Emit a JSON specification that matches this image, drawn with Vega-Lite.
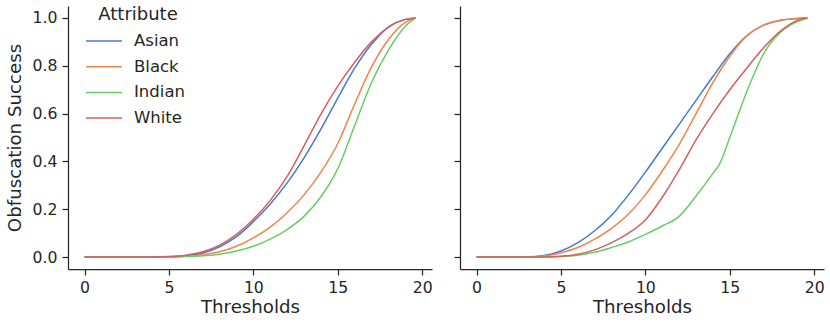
{
  "$schema": "https://vega.github.io/schema/vega-lite/v6.json",
  "padding": {"left": 5, "top": 6, "right": 0, "bottom": 0},
  "background": "white",
  "bounds": "flush",
  "spacing": 28,
  "config": {
    "view": {"stroke": null},
    "font": "DejaVu Sans",
    "axis": {
      "domainColor": "#262626", "domainWidth": 1.25,
      "tickColor": "#262626", "tickWidth": 1.25, "tickSize": 6,
      "labelColor": "#262626", "labelFontSize": 15.7, "labelFont": "DejaVu Sans", "labelPadding": 5,
      "titleFont": "DejaVu Sans", "titleFontSize": 18.2, "titleFontWeight": "normal", "titleColor": "#262626",
      "grid": false
    },
    "legend": {
      "labelFont": "DejaVu Sans", "titleFont": "DejaVu Sans"
    }
  },
  "data": {
    "values": [
      {"p":"L","a":"Asian","t":0,"v":0},{"p":"L","a":"Asian","t":4,"v":0},{"p":"L","a":"Asian","t":5,"v":0.001},{"p":"L","a":"Asian","t":6,"v":0.005},{"p":"L","a":"Asian","t":7,"v":0.017},{"p":"L","a":"Asian","t":8,"v":0.043},{"p":"L","a":"Asian","t":9,"v":0.085},{"p":"L","a":"Asian","t":10,"v":0.148},{"p":"L","a":"Asian","t":11,"v":0.222},{"p":"L","a":"Asian","t":12,"v":0.31},{"p":"L","a":"Asian","t":13,"v":0.415},{"p":"L","a":"Asian","t":14,"v":0.535},{"p":"L","a":"Asian","t":15,"v":0.665},{"p":"L","a":"Asian","t":16,"v":0.79},{"p":"L","a":"Asian","t":17,"v":0.89},{"p":"L","a":"Asian","t":18,"v":0.962},{"p":"L","a":"Asian","t":19,"v":0.994},{"p":"L","a":"Asian","t":19.6,"v":1},
      {"p":"L","a":"Black","t":0,"v":0},{"p":"L","a":"Black","t":5,"v":0},{"p":"L","a":"Black","t":6,"v":0.003},{"p":"L","a":"Black","t":7,"v":0.01},{"p":"L","a":"Black","t":8,"v":0.022},{"p":"L","a":"Black","t":9,"v":0.045},{"p":"L","a":"Black","t":10,"v":0.08},{"p":"L","a":"Black","t":11,"v":0.125},{"p":"L","a":"Black","t":12,"v":0.185},{"p":"L","a":"Black","t":13,"v":0.26},{"p":"L","a":"Black","t":14,"v":0.355},{"p":"L","a":"Black","t":15,"v":0.475},{"p":"L","a":"Black","t":16,"v":0.64},{"p":"L","a":"Black","t":17,"v":0.795},{"p":"L","a":"Black","t":18,"v":0.91},{"p":"L","a":"Black","t":19,"v":0.982},{"p":"L","a":"Black","t":19.6,"v":1},
      {"p":"L","a":"Indian","t":0,"v":0},{"p":"L","a":"Indian","t":5,"v":0},{"p":"L","a":"Indian","t":6,"v":0.002},{"p":"L","a":"Indian","t":7,"v":0.005},{"p":"L","a":"Indian","t":8,"v":0.012},{"p":"L","a":"Indian","t":9,"v":0.025},{"p":"L","a":"Indian","t":10,"v":0.045},{"p":"L","a":"Indian","t":11,"v":0.075},{"p":"L","a":"Indian","t":12,"v":0.115},{"p":"L","a":"Indian","t":13,"v":0.17},{"p":"L","a":"Indian","t":14,"v":0.252},{"p":"L","a":"Indian","t":15,"v":0.37},{"p":"L","a":"Indian","t":16,"v":0.55},{"p":"L","a":"Indian","t":17,"v":0.73},{"p":"L","a":"Indian","t":18,"v":0.865},{"p":"L","a":"Indian","t":19,"v":0.965},{"p":"L","a":"Indian","t":19.6,"v":1},
      {"p":"L","a":"White","t":0,"v":0},{"p":"L","a":"White","t":4,"v":0},{"p":"L","a":"White","t":5,"v":0.002},{"p":"L","a":"White","t":6,"v":0.008},{"p":"L","a":"White","t":7,"v":0.022},{"p":"L","a":"White","t":8,"v":0.05},{"p":"L","a":"White","t":9,"v":0.095},{"p":"L","a":"White","t":10,"v":0.158},{"p":"L","a":"White","t":11,"v":0.237},{"p":"L","a":"White","t":12,"v":0.337},{"p":"L","a":"White","t":13,"v":0.465},{"p":"L","a":"White","t":14,"v":0.598},{"p":"L","a":"White","t":15,"v":0.715},{"p":"L","a":"White","t":16,"v":0.815},{"p":"L","a":"White","t":17,"v":0.9},{"p":"L","a":"White","t":18,"v":0.962},{"p":"L","a":"White","t":19,"v":0.994},{"p":"L","a":"White","t":19.6,"v":1},
      {"p":"R","a":"Asian","t":0,"v":0},{"p":"R","a":"Asian","t":3,"v":0},{"p":"R","a":"Asian","t":4,"v":0.006},{"p":"R","a":"Asian","t":5,"v":0.025},{"p":"R","a":"Asian","t":6,"v":0.06},{"p":"R","a":"Asian","t":7,"v":0.11},{"p":"R","a":"Asian","t":8,"v":0.175},{"p":"R","a":"Asian","t":9,"v":0.26},{"p":"R","a":"Asian","t":10,"v":0.355},{"p":"R","a":"Asian","t":11,"v":0.455},{"p":"R","a":"Asian","t":12,"v":0.555},{"p":"R","a":"Asian","t":13,"v":0.655},{"p":"R","a":"Asian","t":14,"v":0.755},{"p":"R","a":"Asian","t":15,"v":0.85},{"p":"R","a":"Asian","t":16,"v":0.925},{"p":"R","a":"Asian","t":17,"v":0.97},{"p":"R","a":"Asian","t":18,"v":0.99},{"p":"R","a":"Asian","t":19,"v":0.998},{"p":"R","a":"Asian","t":19.6,"v":1},
      {"p":"R","a":"Black","t":0,"v":0},{"p":"R","a":"Black","t":3,"v":0},{"p":"R","a":"Black","t":4,"v":0.004},{"p":"R","a":"Black","t":5,"v":0.018},{"p":"R","a":"Black","t":6,"v":0.04},{"p":"R","a":"Black","t":7,"v":0.075},{"p":"R","a":"Black","t":8,"v":0.12},{"p":"R","a":"Black","t":9,"v":0.18},{"p":"R","a":"Black","t":10,"v":0.26},{"p":"R","a":"Black","t":11,"v":0.36},{"p":"R","a":"Black","t":12,"v":0.47},{"p":"R","a":"Black","t":13,"v":0.6},{"p":"R","a":"Black","t":14,"v":0.73},{"p":"R","a":"Black","t":15,"v":0.84},{"p":"R","a":"Black","t":16,"v":0.925},{"p":"R","a":"Black","t":17,"v":0.97},{"p":"R","a":"Black","t":18,"v":0.99},{"p":"R","a":"Black","t":19,"v":0.998},{"p":"R","a":"Black","t":19.6,"v":1},
      {"p":"R","a":"Indian","t":0,"v":0},{"p":"R","a":"Indian","t":4,"v":0},{"p":"R","a":"Indian","t":5,"v":0.002},{"p":"R","a":"Indian","t":6,"v":0.008},{"p":"R","a":"Indian","t":7,"v":0.02},{"p":"R","a":"Indian","t":8,"v":0.04},{"p":"R","a":"Indian","t":9,"v":0.063},{"p":"R","a":"Indian","t":10,"v":0.095},{"p":"R","a":"Indian","t":11,"v":0.13},{"p":"R","a":"Indian","t":12,"v":0.17},{"p":"R","a":"Indian","t":13,"v":0.255},{"p":"R","a":"Indian","t":14,"v":0.35},{"p":"R","a":"Indian","t":14.4,"v":0.39},{"p":"R","a":"Indian","t":15,"v":0.5},{"p":"R","a":"Indian","t":16,"v":0.69},{"p":"R","a":"Indian","t":17,"v":0.85},{"p":"R","a":"Indian","t":18,"v":0.94},{"p":"R","a":"Indian","t":19,"v":0.985},{"p":"R","a":"Indian","t":19.6,"v":1},
      {"p":"R","a":"White","t":0,"v":0},{"p":"R","a":"White","t":4,"v":0},{"p":"R","a":"White","t":5,"v":0.003},{"p":"R","a":"White","t":6,"v":0.012},{"p":"R","a":"White","t":7,"v":0.03},{"p":"R","a":"White","t":8,"v":0.06},{"p":"R","a":"White","t":9,"v":0.1},{"p":"R","a":"White","t":10,"v":0.155},{"p":"R","a":"White","t":11,"v":0.25},{"p":"R","a":"White","t":12,"v":0.365},{"p":"R","a":"White","t":13,"v":0.49},{"p":"R","a":"White","t":14,"v":0.6},{"p":"R","a":"White","t":15,"v":0.7},{"p":"R","a":"White","t":16,"v":0.79},{"p":"R","a":"White","t":17,"v":0.875},{"p":"R","a":"White","t":18,"v":0.945},{"p":"R","a":"White","t":19,"v":0.99},{"p":"R","a":"White","t":19.6,"v":1}
    ]
  },
  "hconcat": [
    {
      "width": 364, "height": 263,
      "transform": [{"filter": "datum.p == 'L'"}],
      "mark": {"type": "line", "strokeWidth": 1.5, "interpolate": "monotone"},
      "encoding": {
        "x": {"field": "t", "type": "quantitative", "scale": {"domain": [-0.98, 20.58], "nice": false, "zero": false},
              "axis": {"values": [0, 5, 10, 15, 20], "format": "d", "title": "Thresholds"}},
        "y": {"field": "v", "type": "quantitative", "scale": {"domain": [-0.05, 1.05], "nice": false, "zero": false},
              "axis": {"values": [0, 0.2, 0.4, 0.6, 0.8, 1], "format": ".1f", "title": "Obfuscation Success", "titlePadding": 8}},
        "color": {"field": "a", "type": "nominal",
                  "scale": {"domain": ["Asian", "Black", "Indian", "White"], "range": ["#4878d0", "#ee854a", "#6acc64", "#d65f5f"]},
                  "legend": {"title": "Attribute", "orient": "none", "legendX": 23, "legendY": 0,
                             "symbolType": "M-1.5,0H1.5", "symbolSize": 576, "symbolStrokeWidth": 1.5,
                             "labelFontSize": 16.5, "labelColor": "#262626", "labelOffset": 17,
                             "titleFontSize": 18, "titleFontWeight": "normal", "titleColor": "#262626",
                             "titleAnchor": "middle", "titlePadding": 4, "rowPadding": 3.7}}
      }
    },
    {
      "width": 364, "height": 263,
      "transform": [{"filter": "datum.p == 'R'"}],
      "mark": {"type": "line", "strokeWidth": 1.5, "interpolate": "monotone"},
      "encoding": {
        "x": {"field": "t", "type": "quantitative", "scale": {"domain": [-0.98, 20.58], "nice": false, "zero": false},
              "axis": {"values": [0, 5, 10, 15, 20], "format": "d", "title": "Thresholds"}},
        "y": {"field": "v", "type": "quantitative", "scale": {"domain": [-0.05, 1.05], "nice": false, "zero": false},
              "axis": {"values": [0, 0.2, 0.4, 0.6, 0.8, 1], "labels": false, "title": null}},
        "color": {"field": "a", "type": "nominal",
                  "scale": {"domain": ["Asian", "Black", "Indian", "White"], "range": ["#4878d0", "#ee854a", "#6acc64", "#d65f5f"]}}
      }
    }
  ]
}
